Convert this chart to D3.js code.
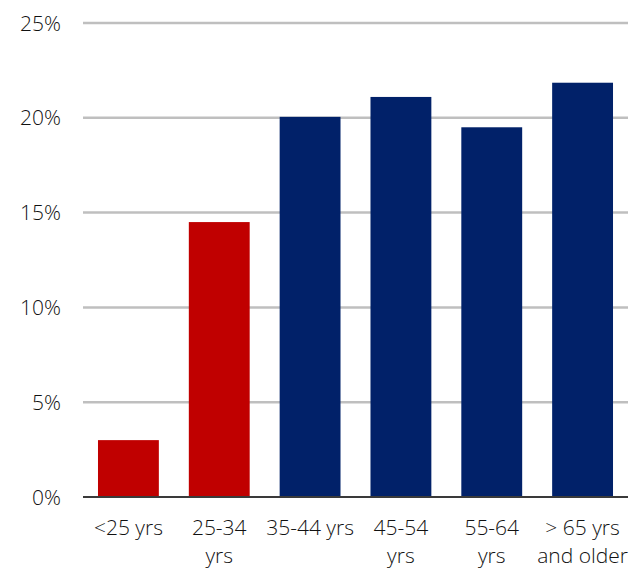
<!DOCTYPE html>
<html>
<head>
<meta charset="utf-8">
<script src="https://cdn.jsdelivr.net/npm/d3@7"></script>
<style>
  html, body { margin: 0; padding: 0; background: #fff; }
  svg { display: block; }
  text { font-family: "Open Sans", sans-serif; font-weight: 350; fill: #111; }
</style>
</head>
<body>
<div id="chart"></div>
<script>
const categories = ["<25 yrs", "25-34 yrs", "35-44 yrs", "45-54 yrs", "55-64 yrs", "> 65 yrs and older"];
const labelLines = [["<25 yrs"], ["25-34", "yrs"], ["35-44 yrs"], ["45-54", "yrs"], ["55-64", "yrs"], ["> 65 yrs", "and older"]];
const values = [3.0, 14.5, 20.05, 21.1, 19.5, 21.85];
const barColors = ["#C00000", "#C00000", "#012169", "#012169", "#012169", "#012169"];
const yTicks = [0, 5, 10, 15, 20, 25];

const W = 640, H = 569;
const margin = { left: 83, right: 12, top: 23, bottom: 72 };

const svg = d3.select("#chart").append("svg").attr("width", W).attr("height", H);

const x = d3.scaleBand().domain(categories)
  .range([margin.left, W - margin.right]).paddingInner(0.33).paddingOuter(0.165);
const y = d3.scaleLinear().domain([0, 25]).range([H - margin.bottom, margin.top]);

// gridlines
svg.append("g").selectAll("line").data(yTicks.filter(d => d > 0)).join("line")
  .attr("x1", margin.left).attr("x2", W - margin.right)
  .attr("y1", d => y(d)).attr("y2", d => y(d))
  .attr("stroke", "#BFBFBF").attr("stroke-width", 2.5);

// y labels
svg.append("g").selectAll("text").data(yTicks).join("text")
  .attr("x", 61).attr("y", d => y(d) + 7.5)
  .attr("text-anchor", "end").attr("font-size", 21)
  .text(d => d + "%");

// bars
svg.append("g").selectAll("rect").data(values).join("rect")
  .attr("x", (d, i) => x(categories[i]))
  .attr("width", x.bandwidth())
  .attr("y", d => y(d))
  .attr("height", d => y(0) - y(d))
  .attr("fill", (d, i) => barColors[i]);

// baseline
svg.append("line")
  .attr("x1", margin.left).attr("x2", W - margin.right)
  .attr("y1", y(0)).attr("y2", y(0))
  .attr("stroke", "#3a3a3a").attr("stroke-width", 2);

// x labels
const xl = svg.append("g").selectAll("text").data(categories).join("text")
  .attr("text-anchor", "middle").attr("font-size", 21)
  .attr("x", d => x(d) + x.bandwidth() / 2)
  .attr("y", 535);
xl.each(function(d, i) {
  const t = d3.select(this);
  labelLines[i].forEach((ln, k) => {
    t.append("tspan").attr("x", x(d) + x.bandwidth() / 2)
      .attr("dy", k === 0 ? 0 : 28).text(ln);
  });
});
</script>
</body>
</html>
